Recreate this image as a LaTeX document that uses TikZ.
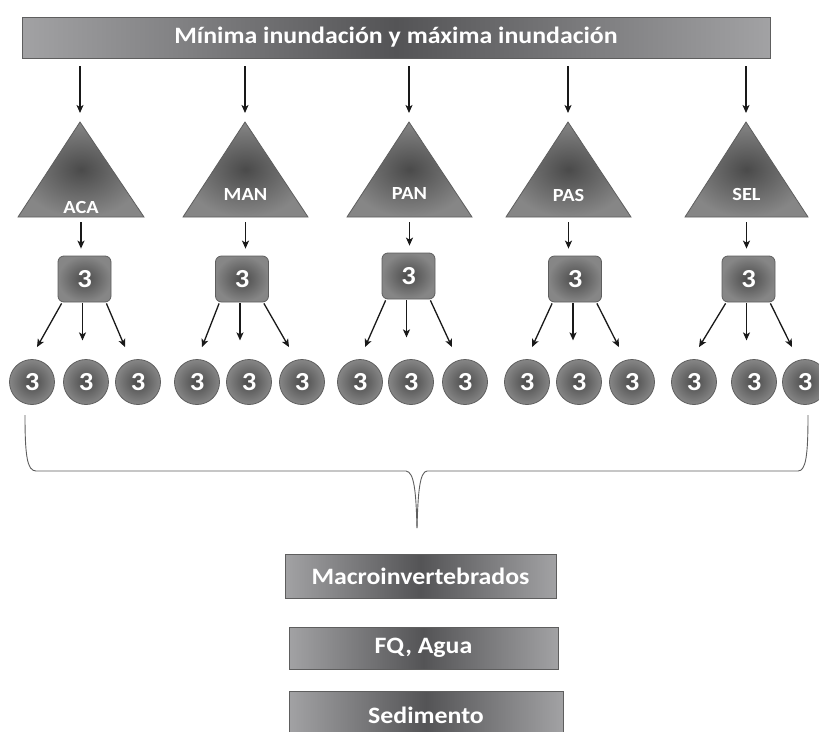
\documentclass[tikz,border=0pt]{standalone}
\usepackage{fontspec}
\setmainfont[FakeStretch=1.1]{Carlito}
\usetikzlibrary{arrows.meta,calc}
\definecolor{edgeG}{HTML}{A2A2A4}
\definecolor{midG}{HTML}{545456}
\definecolor{lineG}{HTML}{5E5E5E}
\definecolor{shIn}{HTML}{4A4A4A}
\definecolor{shOut}{HTML}{868686}
\begin{document}
\begin{tikzpicture}[x=1pt,y=-1pt,
 barbox/.style={draw=lineG,line width=0.8pt,left color=edgeG,right color=edgeG,middle color=midG,text=white,font=\bfseries\fontsize{23.5}{25}\selectfont,inner sep=0pt},
 sqbox/.style={draw=lineG,line width=0.8pt,rounded corners=6pt,inner color=shIn,outer color=shOut,minimum width=53pt,minimum height=46pt,text=white,font=\bfseries\fontsize{26}{26}\selectfont,inner sep=0pt},
 ball/.style={circle,draw=lineG,line width=0.8pt,inner color=shIn,outer color=shOut,minimum size=45pt,text=white,font=\bfseries\fontsize{26}{26}\selectfont,inner sep=0pt},
 tri/.style={draw=lineG,line width=0.8pt,inner color=shIn,outer color=shOut},
 trilabel/.style={text=white,font=\bfseries\fontsize{18.5}{19}\selectfont,inner sep=0pt},
 arr/.style={-{Stealth[length=8pt,width=7pt,inset=2pt]},line width=1.3pt,draw=black!90},
 bracel/.style={draw=lineG,line width=0.9pt}
]
\useasboundingbox (0,0) rectangle (819,731);
\clip (0,0) rectangle (819,731);

% top bar
\node[barbox,minimum width=748pt,minimum height=41pt] (top) at (396,37.5) {Mínima inundación y máxima inundación};

% triangles, squares, circles
\foreach \n/\ax/\bl/\br/\ly/\sx/\sy/\ca/\cb/\cc in {
  ACA/80/18/144/207/84.5/279/32/86/138,
  MAN/245/183/308/194/242/279/197/249/302,
  PAN/409/347/472/193/408.5/276/360/411/465,
  PAS/568/506/631/195/575/279/527/579/632,
  SEL/746/685/808/194/748.5/279/694/754/805}{
  \coordinate (t\n) at (\ax,122);
  \coordinate (b\n) at ({(\bl+\br)/2},217);
  \path[tri] (t\n) -- (\br,217) -- (\bl,217) -- cycle;
  \node[trilabel] (l\n) at ({(\bl+\br)/2},\ly) {\n};
  \node[sqbox] (s\n) at (\sx,\sy) {3};
  \node[ball] (c\n1) at (\ca,382) {3};
  \node[ball] (c\n2) at (\cb,382) {3};
  \node[ball] (c\n3) at (\cc,382) {3};
  \draw[arr,shorten >=9pt] ($(top.south -| t\n)+(0,8)$) -- (t\n);
  \draw[arr,shorten <=5pt,shorten >=7pt] (b\n) -- (b\n |- s\n.north);
  \draw[arr] ($(s\n.south west)+(4,1)$) -- ($(c\n1.north)+(5,-12)$);
  \draw[arr] ($(s\n.south)+(-2,1)$) -- ($(s\n.south)+(-2,38)$);
  \draw[arr] ($(s\n.south east)+(-5,1)$) -- ($(c\n3.north)+(-13,-12)$);
}

% brace
\coordinate (bl) at (25,415);
\coordinate (bp) at (417,528);
\coordinate (br) at (808,415);
\draw[bracel] (bl) .. controls (25,455) and (27,471) .. (36,471) -- (406,471)
  .. controls (414,472) and (416,490) .. (bp);
\draw[bracel] (bp) .. controls (418,490) and (420,472) .. (427,471) -- (798,471)
  .. controls (806,471) and (808,455) .. (br);

% bottom boxes
\node[barbox,minimum width=271pt,minimum height=44pt] (macro) at (420.5,576) {Macroinvertebrados};
\node[barbox,minimum width=269pt,minimum height=42pt] (fq) at (423.5,648) {FQ, Agua};
\node[barbox,minimum width=274pt,minimum height=48pt] (sed) at (426,715) {Sedimento};
\end{tikzpicture}
\end{document}
